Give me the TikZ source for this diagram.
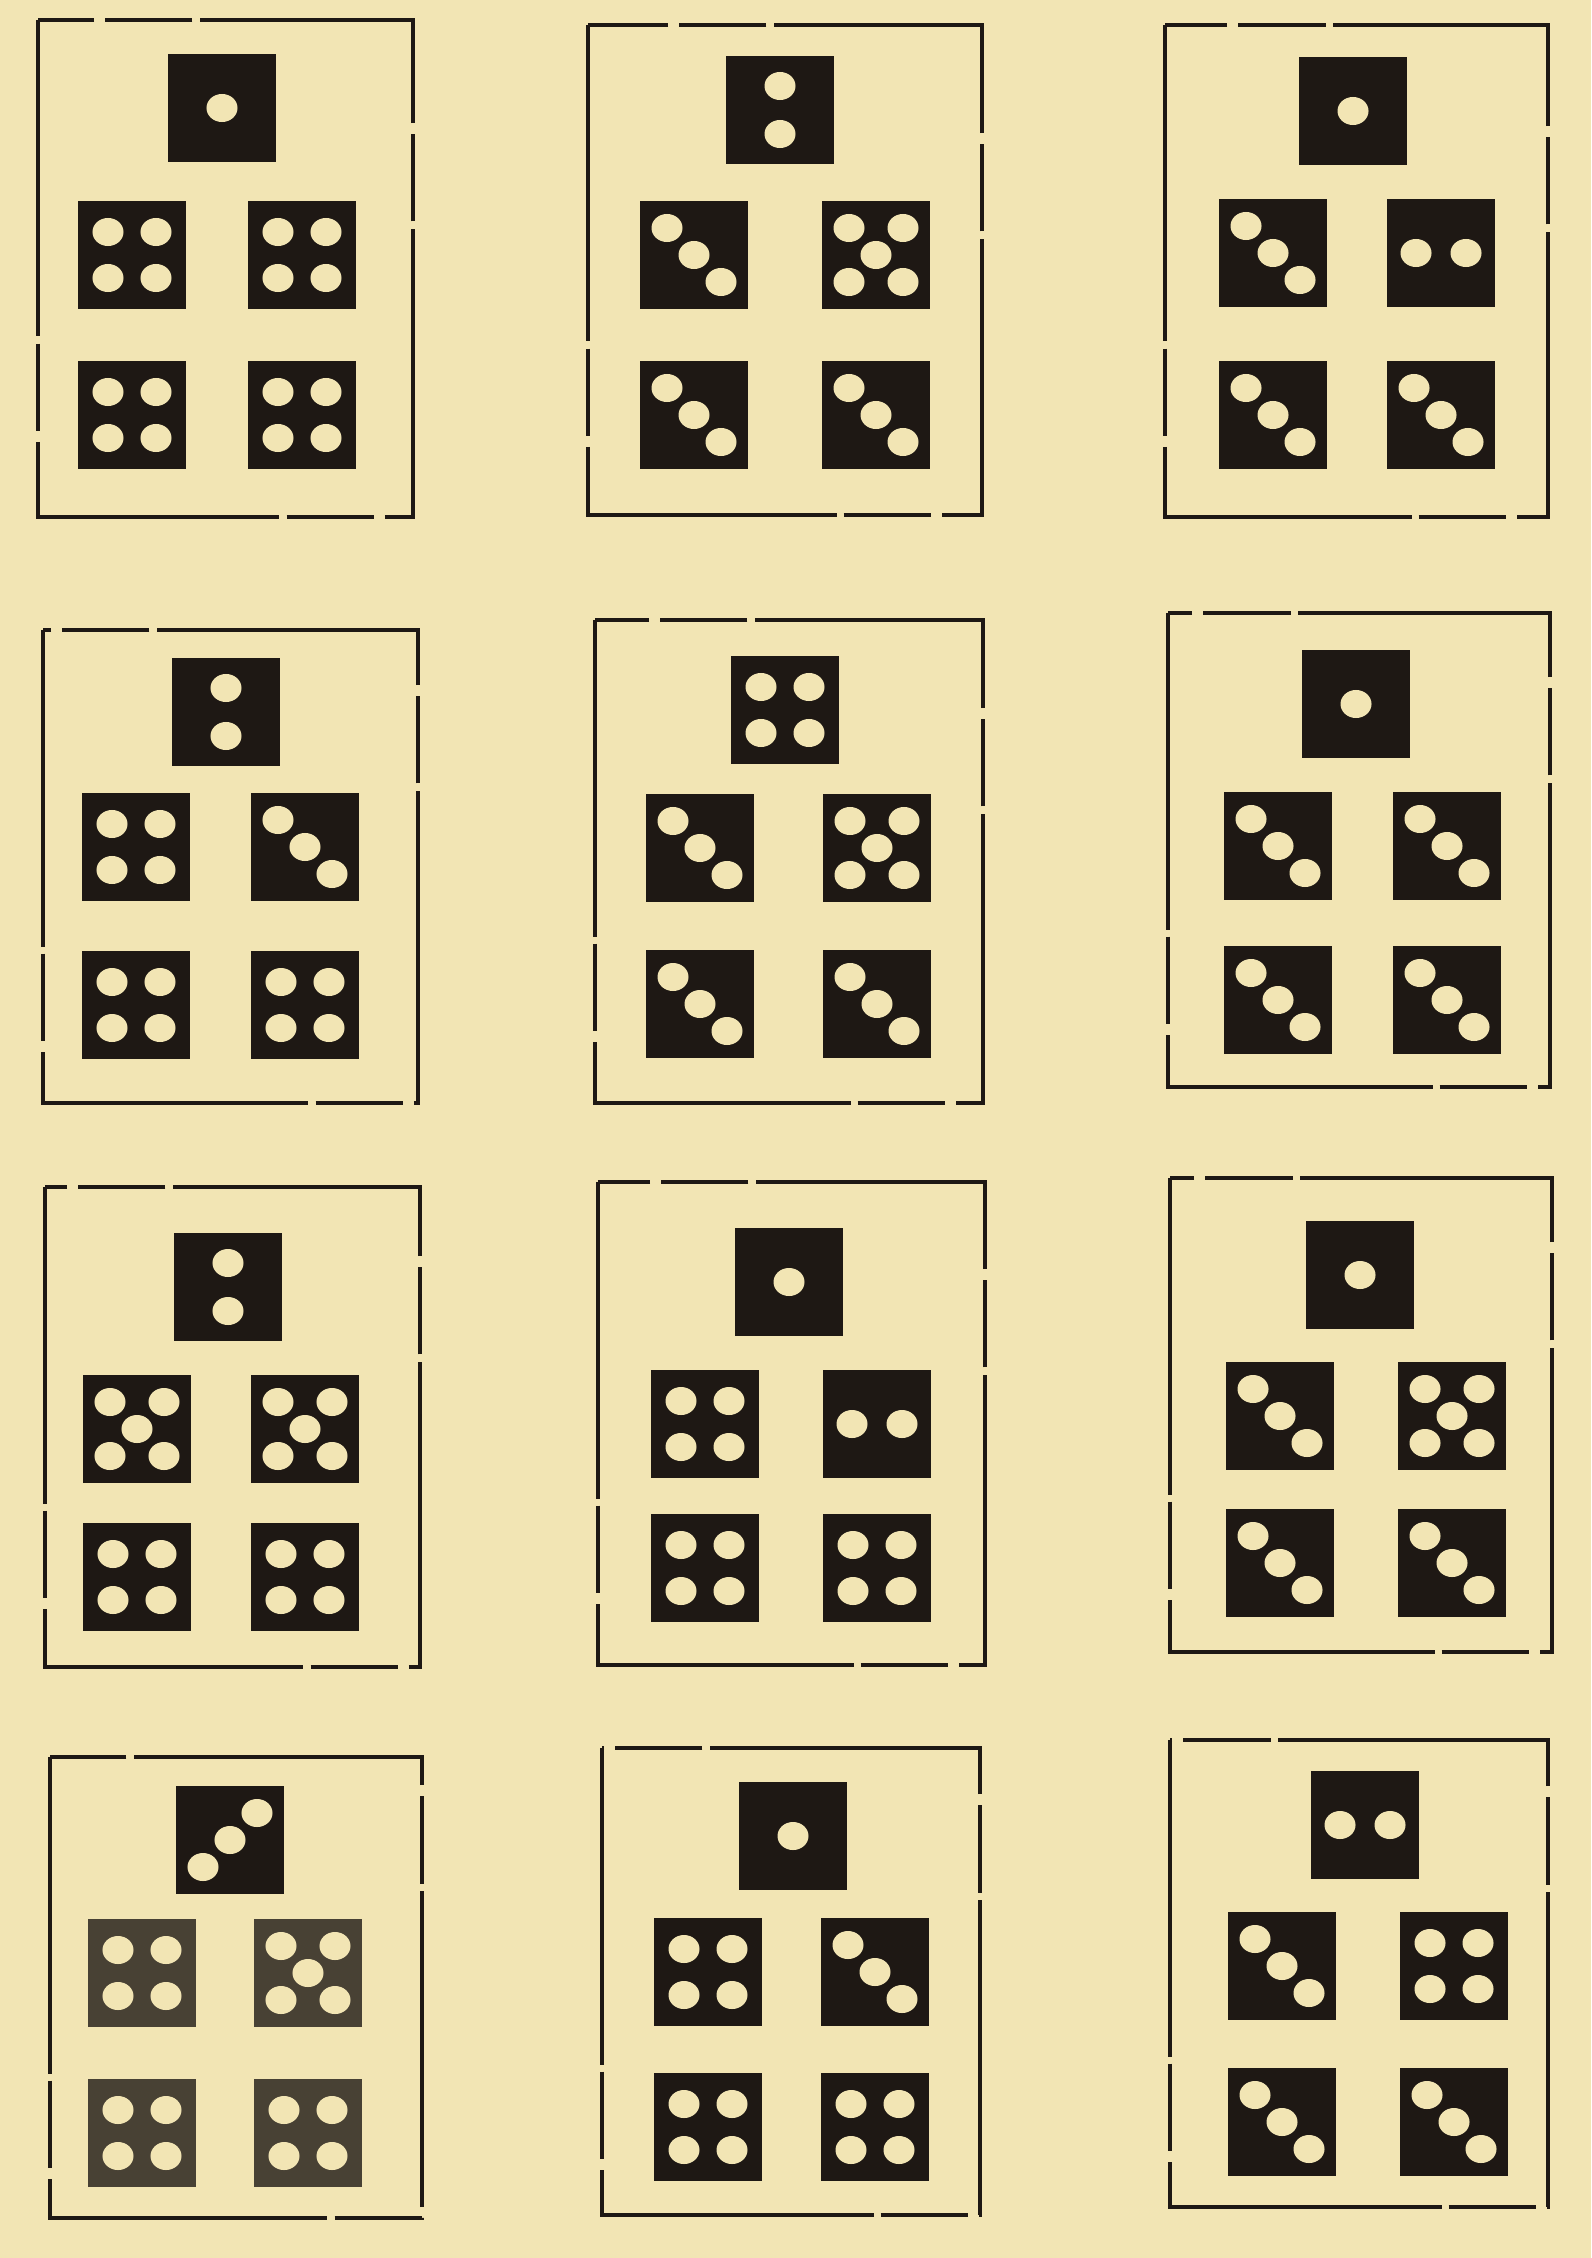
\documentclass[tikz,border=0pt]{standalone}
\usepackage{tikz}
\usetikzlibrary{positioning}
\definecolor{paper}{RGB}{242,229,180}
\definecolor{ink}{RGB}{30,24,20}

% one pip, offset (in px units) from the centre of the die
\newcommand{\pip}[2]{\fill[paper] ([shift={(#1,#2)}]path picture bounding box.center) ellipse [x radius=0.155cm, y radius=0.14cm];}

\begin{document}
\begin{tikzpicture}[
    x=0.01cm, y=-0.01cm,
    die/.style={rectangle, fill=ink, minimum size=1.07cm, inner sep=0pt},
    frame/.style={draw=ink, line width=1.4pt, dash pattern=on 90pt off 2pt on 25pt off 3pt},
    face1/.style={path picture={\pip{0}{0}}},
    face2v/.style={path picture={\pip{0}{-24}\pip{0}{24}}},
    face2h/.style={path picture={\pip{-25}{0}\pip{25}{0}}},
    face3/.style={path picture={\pip{-27}{-27}\pip{0}{0}\pip{27}{27}}},
    face3r/.style={path picture={\pip{27}{-27}\pip{0}{0}\pip{-27}{27}}},
    face4/.style={path picture={\pip{-24}{-23}\pip{24}{-23}\pip{-24}{23}\pip{24}{23}}},
    face5/.style={path picture={\pip{-27}{-27}\pip{27}{-27}\pip{0}{0}\pip{-27}{27}\pip{27}{27}}},
]
\fill[paper] (0,0) rectangle (1591,2258);
\useasboundingbox (0,0) rectangle (1591,2258);

% frame corners, top die, column and row of the four lower dice, faces, tone
\foreach \xa/\ya/\xb/\yb/\tx/\ty/\lx/\rx/\my/\by/\ft/\fa/\fb/\fc/\fd/\tone [count=\i] in {
    38/20/413/517/222/108/132/302/255/415/face1/face4/face4/face4/face4/ink,
    588/25/982/515/780/110/694/876/255/415/face2v/face3/face5/face3/face3/ink,
    1165/25/1548/517/1353/111/1273/1441/253/415/face1/face3/face2h/face3/face3/ink,
    43/630/418/1103/226/712/136/305/847/1005/face2v/face4/face3/face4/face4/ink,
    595/620/983/1103/785/710/700/877/848/1004/face4/face3/face5/face3/face3/ink,
    1168/613/1550/1087/1356/704/1278/1447/846/1000/face1/face3/face3/face3/face3/ink,
    45/1187/420/1667/228/1287/137/305/1429/1577/face2v/face5/face5/face4/face4/ink,
    598/1182/985/1665/789/1282/705/877/1424/1568/face1/face4/face2h/face4/face4/ink,
    1170/1178/1552/1652/1360/1275/1280/1452/1416/1563/face1/face3/face5/face3/face3/ink,
    50/1757/422/2218/230/1840/142/308/1973/2133/face3r/face4/face5/face4/face4/ink!80!paper,
    602/1748/980/2215/793/1836/708/875/1972/2127/face1/face4/face3/face4/face4/ink,
    1170/1740/1548/2207/1365/1825/1282/1454/1966/2122/face2h/face3/face4/face3/face3/ink}
{
    \draw[frame] (\xa,\ya) rectangle (\xb,\yb);
    \node[die, \ft] (top\i) at (\tx,\ty) {};
    \node[die, fill=\tone, \fa] (ml\i) at (\lx,\my) {};
    \node[die, fill=\tone, \fb] (mr\i) at (\rx,\my) {};
    \node[die, fill=\tone, \fc] (bl\i) at (\lx,\by) {};
    \node[die, fill=\tone, \fd] (br\i) at (\rx,\by) {};
}
\end{tikzpicture}
\end{document}
